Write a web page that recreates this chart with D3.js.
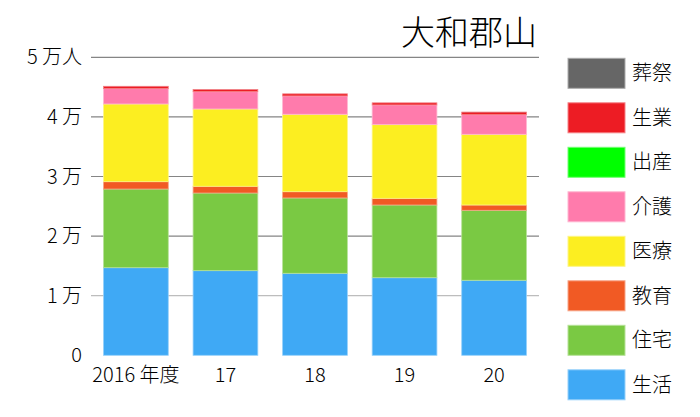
<!DOCTYPE html>
<html>
<head>
<meta charset="utf-8">
<script src="https://cdn.jsdelivr.net/npm/d3@7"></script>
<style>
  body { margin: 0; background: #fff; }
  text { font-family: "Noto Sans CJK JP", "Noto Sans", sans-serif; font-weight: 300; fill: #000; }
</style>
</head>
<body>
<div id="chart"></div>
<script>
// datos (personas por rubro, por año)
const years = ["2016 年度", "17", "18", "19", "20"];
const seikatsu = [14700, 14200, 13760, 13020, 12590]; // 生活
const jutaku   = [13200, 13030, 12640, 12200, 11740]; // 住宅
const kyoiku   = [1230, 1130, 1050, 1120, 890];       // 教育
const iryo     = [13040, 12970, 12990, 12360, 11860]; // 医療
const kaigo    = [2570, 2900, 3070, 3300, 3290];      // 介護
const shussan  = [5, 5, 5, 5, 5];                     // 出産
const seigyo   = [390, 360, 350, 350, 430];           // 生業
const sosai    = [5, 5, 5, 5, 20];                    // 葬祭

const seriesNames = ["生活", "住宅", "教育", "医療", "介護", "出産", "生業", "葬祭"];
const seriesValues = [seikatsu, jutaku, kyoiku, iryo, kaigo, shussan, seigyo, sosai];
const seriesColors = ["#3fa9f5", "#7ac943", "#f15a24", "#fcee21", "#ff7bac", "#00ff00", "#ed1c24", "#666666"];

const yTicks = [0, 10000, 20000, 30000, 40000, 50000];
const yTickLabels = ["0", "1 万", "2 万", "3 万", "4 万", "5 万人"];
const title = "大和郡山";

const WIDTH = 700;
const HEIGHT = 417;
const MARGIN = { top: 57.3, bottom: 61.7, left: 91, right: 161 };

const svg = d3.select("#chart").append("svg")
  .attr("width", WIDTH).attr("height", HEIGHT);

// tabla para el stack
const table = years.map((y, i) => {
  const row = { year: y };
  seriesNames.forEach((n, k) => { row[n] = seriesValues[k][i]; });
  return row;
});

const stacked = d3.stack().keys(seriesNames)(table);

const x = d3.scaleBand()
  .domain(years)
  .range([MARGIN.left, WIDTH - MARGIN.right])
  .paddingInner(0.277)
  .paddingOuter(0.14);

const y = d3.scaleLinear()
  .domain([0, 50000])
  .range([HEIGHT - MARGIN.bottom, MARGIN.top]);

const color = d3.scaleOrdinal().domain(seriesNames).range(seriesColors);
const light = c => d3.interpolateRgb(c, "#fff")(0.45);

// grilla
svg.append("g")
  .selectAll("line")
  .data(yTicks.filter(d => d > 0))
  .join("line")
  .attr("x1", MARGIN.left)
  .attr("x2", WIDTH - MARGIN.right)
  .attr("y1", d => y(d))
  .attr("y2", d => y(d))
  .attr("stroke", d => d === 10000 ? "#bdbdbd" : "#858585")
  .attr("stroke-width", 1.2);

// etiquetas eje Y
svg.append("g")
  .selectAll("text")
  .data(yTicks)
  .join("text")
  .attr("x", 82)
  .attr("y", d => y(d))
  .attr("dy", "0.35em")
  .attr("text-anchor", "end")
  .attr("font-size", 20)
  .text((d, i) => yTickLabels[i]);

// barras
svg.append("g")
  .selectAll("g")
  .data(stacked)
  .join("g")
  .attr("fill", d => color(d.key))
  .attr("stroke", d => d.key === "葬祭" || d.key === "出産" ? "none" : light(color(d.key)))
  .attr("stroke-width", 0.8)
  .selectAll("rect")
  .data(d => d)
  .join("rect")
  .attr("x", d => x(d.data.year))
  .attr("width", x.bandwidth())
  .attr("y", d => y(d[1]))
  .attr("height", d => Math.max(0, y(d[0]) - y(d[1])));

// etiquetas eje X
svg.append("g")
  .selectAll("text")
  .data(years)
  .join("text")
  .attr("x", d => x(d) + x.bandwidth() / 2)
  .attr("y", 381.5)
  .attr("text-anchor", "middle")
  .attr("font-size", 20)
  .text(d => d);

// titulo
svg.append("text")
  .attr("x", 537)
  .attr("y", 45)
  .attr("text-anchor", "end")
  .attr("font-size", 34)
  .text(title);

// leyenda (de arriba hacia abajo: 葬祭 ... 生活)
const legendItems = seriesNames.slice().reverse();
const legend = svg.append("g")
  .selectAll("g")
  .data(legendItems)
  .join("g")
  .attr("transform", (d, i) => `translate(568, ${58.3 + i * 44.5})`);

legend.append("rect")
  .attr("width", 57)
  .attr("height", 30)
  .attr("fill", d => color(d))
  .attr("stroke", d => light(color(d)))
  .attr("stroke-width", 1);

legend.append("text")
  .attr("x", 64)
  .attr("y", 15)
  .attr("dy", "0.35em")
  .attr("font-size", 20)
  .text(d => d);
</script>
</body>
</html>
